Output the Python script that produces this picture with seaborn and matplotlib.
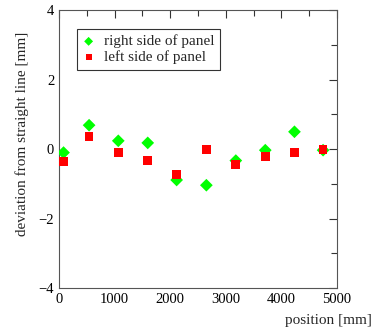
import numpy as np
import pandas as pd
import matplotlib
matplotlib.use("Agg")
import matplotlib.pyplot as plt
from matplotlib.ticker import MultipleLocator
import seaborn as sns

# data
position = [80, 540, 1065, 1595, 2115, 2650, 3180, 3710, 4235, 4750]
right_side = [-0.10, 0.69, 0.24, 0.18, -0.89, -1.04, -0.33, -0.03, 0.50, -0.03]
left_side = [-0.36, 0.36, -0.09, -0.32, -0.72, 0.00, -0.45, -0.22, -0.10, -0.01]

sns.set_style("white")
plt.rcParams['font.family'] = ['Liberation Serif', 'DejaVu Serif']
plt.rcParams['font.size'] = 10.5

df_r = pd.DataFrame({"position": position, "dev": right_side})
df_l = pd.DataFrame({"position": position, "dev": left_side})

fig = plt.figure(figsize=(3.74, 3.34), dpi=100)
ax = fig.add_axes([0.158, 0.138, 0.743, 0.831])

sns.scatterplot(data=df_r, x="position", y="dev", ax=ax, marker="D", s=42,
                color="#00ff00", edgecolor="none", label="right side of panel", zorder=3)
sns.scatterplot(data=df_l, x="position", y="dev", ax=ax, marker="s", s=40,
                color="#ff0000", edgecolor="none", label="left side of panel", zorder=3)

ax.set_xlim(0, 5000)
ax.set_ylim(-4, 4)
ax.xaxis.set_major_locator(MultipleLocator(1000))
ax.xaxis.set_minor_locator(MultipleLocator(500))
ax.yaxis.set_major_locator(MultipleLocator(2))
ax.yaxis.set_minor_locator(MultipleLocator(1))
ax.tick_params(which="both", direction="in", top=True, right=True, colors="#333333",
               labelcolor="black", labelsize=10.5)
ax.tick_params(which="major", length=6, width=0.8)
ax.tick_params(which="minor", length=4, width=0.8)
for s in ax.spines.values():
    s.set_color("#555555")
    s.set_linewidth(0.8)

ax.set_xlabel("position [mm]", fontsize=11, ha="right", va="top")
ax.xaxis.set_label_coords(1.126, -0.095)
ax.set_ylabel("deviation from straight line [mm]", fontsize=11)
ax.yaxis.set_label_coords(-0.11, 0.555)

leg = ax.legend(loc="upper left", bbox_to_anchor=(0.065, 0.932), borderaxespad=0,
                frameon=True, fancybox=False, fontsize=11, handletextpad=0.6,
                borderpad=0.35, labelspacing=0.15, handlelength=0.8, markerscale=0.7)
leg.get_frame().set_edgecolor("black")
leg.get_frame().set_linewidth(0.8)

fig.savefig("out.png", dpi=100)
